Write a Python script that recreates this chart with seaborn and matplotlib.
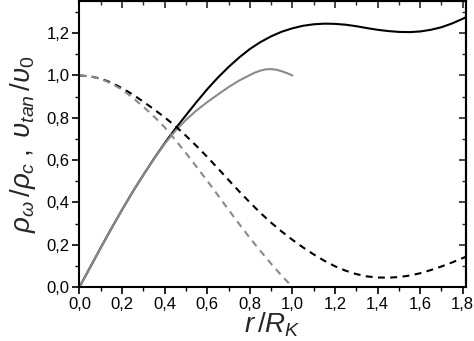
import numpy as np
import pandas as pd
import seaborn as sns
import matplotlib
matplotlib.use("Agg")
import matplotlib.pyplot as plt
from matplotlib.ticker import MultipleLocator

# Rotation velocity v_tan/v_0 (black: full model, grey: truncated at r = R_K)
r_vel = [0.0, 0.05, 0.1, 0.15, 0.2, 0.25, 0.3, 0.35, 0.4, 0.45, 0.5, 0.55,
         0.6, 0.65, 0.7, 0.75, 0.8, 0.85, 0.9, 0.95, 1.0, 1.05, 1.1, 1.15,
         1.2, 1.25, 1.3, 1.35, 1.4, 1.45, 1.5, 1.55, 1.6, 1.65, 1.7, 1.75,
         1.8, 1.815]
vel_full = [0.0, 0.093, 0.186, 0.277, 0.365, 0.45, 0.53, 0.607, 0.68, 0.748,
            0.812, 0.875, 0.935, 0.99, 1.04, 1.085, 1.125, 1.158, 1.185,
            1.207, 1.223, 1.235, 1.242, 1.245, 1.244, 1.24, 1.233, 1.224,
            1.216, 1.21, 1.206, 1.205, 1.208, 1.216, 1.228, 1.246, 1.268,
            1.276]

r_vel_trunc = [0.0, 0.05, 0.1, 0.15, 0.2, 0.25, 0.3, 0.35, 0.4, 0.45, 0.5,
               0.55, 0.6, 0.65, 0.7, 0.75, 0.8, 0.825, 0.85, 0.875, 0.9,
               0.925, 0.95, 0.975, 1.0]
vel_trunc = [0.0, 0.093, 0.186, 0.277, 0.365, 0.45, 0.53, 0.606, 0.677,
             0.738, 0.79, 0.835, 0.874, 0.91, 0.945, 0.976, 1.002, 1.014,
             1.023, 1.029, 1.03, 1.027, 1.02, 1.011, 1.0]

# Density profile rho_w/rho_c (black: full model, grey: truncated at r = R_K)
r_rho = [0.0, 0.05, 0.1, 0.15, 0.2, 0.25, 0.3, 0.35, 0.4, 0.45, 0.5, 0.55,
         0.6, 0.65, 0.7, 0.75, 0.8, 0.85, 0.9, 0.95, 1.0, 1.05, 1.1, 1.15,
         1.2, 1.25, 1.3, 1.35, 1.4, 1.45, 1.5, 1.55, 1.6, 1.65, 1.7, 1.75,
         1.8, 1.815]
rho_full = [1.0, 0.996, 0.985, 0.966, 0.94, 0.91, 0.876, 0.84, 0.802, 0.761,
            0.715, 0.666, 0.615, 0.561, 0.506, 0.452, 0.4, 0.35, 0.304, 0.262,
            0.223, 0.187, 0.154, 0.124, 0.098, 0.077, 0.061, 0.05, 0.045,
            0.044, 0.047, 0.054, 0.065, 0.08, 0.097, 0.116, 0.137, 0.143]

r_rho_trunc = [0.0, 0.05, 0.1, 0.15, 0.2, 0.25, 0.3, 0.35, 0.4, 0.45, 0.5,
               0.55, 0.6, 0.65, 0.7, 0.75, 0.8, 0.85, 0.9, 0.95, 1.0]
rho_trunc = [1.0, 0.996, 0.984, 0.962, 0.933, 0.895, 0.852, 0.806, 0.755,
             0.695, 0.633, 0.568, 0.502, 0.434, 0.365, 0.298, 0.232, 0.17,
             0.11, 0.053, 0.0]

x_ticks = [0.0, 0.2, 0.4, 0.6, 0.8, 1.0, 1.2, 1.4, 1.6, 1.8]
x_tick_labels = ["0,0", "0,2", "0,4", "0,6", "0,8", "1,0", "1,2", "1,4",
                 "1,6", "1,8"]
y_ticks = [0.0, 0.2, 0.4, 0.6, 0.8, 1.0, 1.2]
y_tick_labels = ["0,0", "0,2", "0,4", "0,6", "0,8", "1,0", "1,2"]

sns.set_style("ticks")
plt.rcParams["font.family"] = ["Liberation Sans", "DejaVu Sans"]
plt.rcParams["mathtext.fontset"] = "custom"
plt.rcParams["mathtext.it"] = "Liberation Sans:italic"
plt.rcParams["mathtext.rm"] = "Liberation Sans"

fig = plt.figure(figsize=(4.74, 3.41), dpi=100)
ax = fig.add_axes([0.1677, 0.1584, 0.8153, 0.8386])

grey = "#8a8a8a"
dash = (0, (3.3, 2.6))
sns.lineplot(x=r_vel, y=vel_full, ax=ax, color="black", lw=1.5,
             estimator=None, sort=False)
sns.lineplot(x=r_vel_trunc, y=vel_trunc, ax=ax, color=grey, lw=1.5,
             estimator=None, sort=False)
sns.lineplot(x=r_rho, y=rho_full, ax=ax, color="black", lw=1.5,
             estimator=None, sort=False, linestyle=dash)
sns.lineplot(x=r_rho_trunc, y=rho_trunc, ax=ax, color=grey, lw=1.5,
             estimator=None, sort=False, linestyle=dash)

ax.set_xlim(0, 1.815)
ax.set_ylim(0, 1.352)
ax.set_xticks(x_ticks)
ax.set_xticklabels(x_tick_labels)
ax.set_yticks(y_ticks)
ax.set_yticklabels(y_tick_labels)
ax.xaxis.set_minor_locator(MultipleLocator(0.1))
ax.yaxis.set_minor_locator(MultipleLocator(0.1))

for side in ["left", "right", "top", "bottom"]:
    ax.spines[side].set_visible(True)
    ax.spines[side].set_linewidth(1.5)
    ax.spines[side].set_color("black")

ax.tick_params(axis="both", which="major", direction="out", length=5,
               width=1.2, labelsize=12, colors="black", pad=2)
ax.tick_params(axis="both", which="minor", direction="out", length=3,
               width=1.0, colors="black")
# Mirrored inward ticks on the top and right frames
secx = ax.secondary_xaxis("top")
secx.set_xticks(x_ticks)
secx.set_xticklabels([])
secx.xaxis.set_minor_locator(MultipleLocator(0.1))
secx.tick_params(which="major", direction="in", length=5, width=1.2)
secx.tick_params(which="minor", direction="in", length=3, width=1.0)
secx.spines["top"].set_linewidth(1.5)
secy = ax.secondary_yaxis("right")
secy.set_yticks(y_ticks)
secy.set_yticklabels([])
secy.yaxis.set_minor_locator(MultipleLocator(0.1))
secy.tick_params(which="major", direction="in", length=5, width=1.2)
secy.tick_params(which="minor", direction="in", length=3, width=1.0)
secy.spines["right"].set_linewidth(1.5)

ax.set_xlabel(r"$r\,/R_{K}$", fontsize=20, labelpad=-1)
ax.set_ylabel(r"$\rho_{\omega}\,/\rho_{c}\;,\;\upsilon_{tan}\,/\upsilon_{0}$",
              fontsize=20, labelpad=6)

fig.savefig("out.png", dpi=100)
